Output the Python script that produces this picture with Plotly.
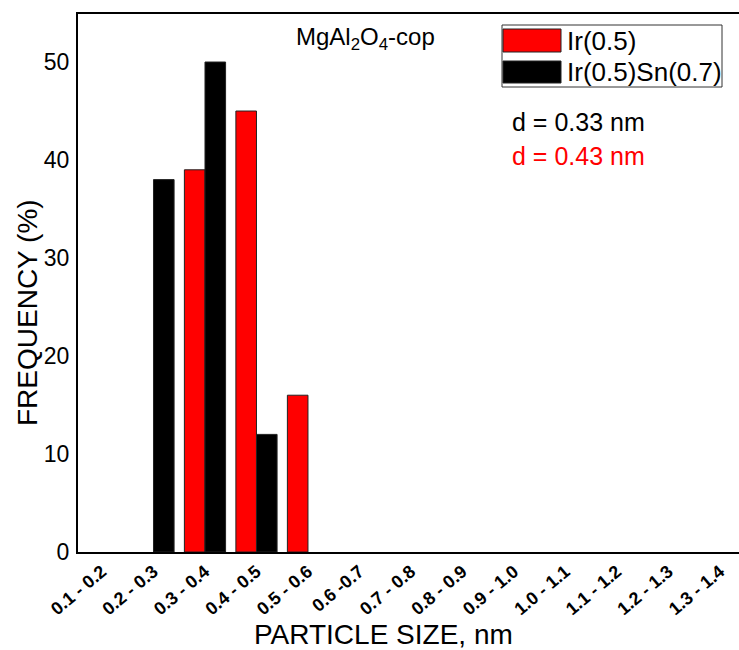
import plotly.graph_objects as go

# Particle size bins (nm)
size_bins = ["0.1 - 0.2", "0.2 - 0.3", "0.3 - 0.4", "0.4 - 0.5", "0.5 - 0.6",
             "0.6 -0.7", "0.7 - 0.8", "0.8 - 0.9", "0.9 - 1.0", "1.0 - 1.1",
             "1.1 - 1.2", "1.2 - 1.3", "1.3 - 1.4"]

# Frequency (%) per bin for each catalyst
series_names = ["Ir(0.5)", "Ir(0.5)Sn(0.7)"]
freq_ir = [0, 0, 39, 45, 16, 0, 0, 0, 0, 0, 0, 0, 0]
freq_irsn = [0, 38, 50, 12, 0, 0, 0, 0, 0, 0, 0, 0, 0]
series_colors = ["#ff0000", "#000000"]

# Mean particle diameters
mean_labels = ["d = 0.33 nm", "d = 0.43 nm"]
mean_colors = ["#000000", "#ff0000"]

W, H = 739, 650
ML, MR, MT, MB = 78, 0, 14, 98
PW, PH = W - ML - MR, H - MT - MB
FONT = "Arial, 'Liberation Sans', sans-serif"


def px(x):
    return (x - ML) / PW


def py(y):
    return (H - MB - y) / PH


fig = go.Figure()
for name, vals, col in zip(series_names, [freq_ir, freq_irsn], series_colors):
    # empty bins get no outline so nothing is drawn along the baseline
    outline = [1 if v else 0 for v in vals]
    fig.add_trace(go.Bar(
        x=size_bins, y=vals, name=name,
        marker=dict(color=col, line=dict(color="#222222", width=outline)),
        showlegend=False,
    ))

shapes = []
annotations = []

# Legend frame with large colour swatches
shapes.append(dict(type="rect", xref="paper", yref="paper",
                   x0=px(502), x1=px(722), y0=py(87), y1=py(25),
                   line=dict(color="#333333", width=1), fillcolor="white"))
for i, (name, col) in enumerate(zip(series_names, series_colors)):
    top, bot = [(29, 52), (61, 83)][i]
    shapes.append(dict(type="rect", xref="paper", yref="paper",
                       x0=px(503), x1=px(561), y0=py(bot), y1=py(top),
                       line=dict(color="#222222", width=1), fillcolor=col))
    annotations.append(dict(xref="paper", yref="paper", x=px(565),
                            y=py((top + bot) / 2), text=name, showarrow=False,
                            xanchor="left", yanchor="middle",
                            font=dict(family=FONT, size=26, color="black")))

# Sample label
annotations.append(dict(xref="paper", yref="paper", x=px(294), y=py(39),
                        text="MgAl<sub>2</sub>O<sub>4</sub>-cop", showarrow=False,
                        xanchor="left", yanchor="middle",
                        font=dict(family=FONT, size=24, color="black")))

# Mean diameters
for txt, col, yc in zip(mean_labels, mean_colors, [122, 156]):
    annotations.append(dict(xref="paper", yref="paper", x=px(510), y=py(yc),
                            text=txt, showarrow=False, xanchor="left",
                            yanchor="middle",
                            font=dict(family=FONT, size=25, color=col)))

# Axis titles
annotations.append(dict(xref="paper", yref="paper", x=px(383), y=py(634),
                        text="PARTICLE SIZE, nm", showarrow=False,
                        xanchor="center", yanchor="middle",
                        font=dict(family=FONT, size=28, color="black")))
annotations.append(dict(xref="paper", yref="paper", x=px(27), y=py(313),
                        text="FREQUENCY (%)", showarrow=False, textangle=-90,
                        xanchor="center", yanchor="middle",
                        font=dict(family=FONT, size=28, color="black")))

fig.update_layout(
    width=W, height=H,
    margin=dict(l=ML, r=MR, t=MT, b=MB, pad=0),
    paper_bgcolor="white", plot_bgcolor="white",
    barmode="group", bargap=0.2, bargroupgap=0,
    shapes=shapes, annotations=annotations,
    font=dict(family=FONT, color="black"),
)
fig.update_xaxes(
    type="category", range=[-0.466, 12.37],
    showgrid=False, zeroline=False, layer="above traces",
    showline=True, linecolor="black", linewidth=2, mirror=True,
    ticks="", tickangle=-40, ticklabelstandoff=0,
    tickfont=dict(family=FONT, size=18, color="black", weight="bold"),
)
fig.update_yaxes(
    range=[0, 54.9], tickvals=[0, 10, 20, 30, 40, 50],
    showgrid=False, zeroline=False, layer="above traces",
    showline=True, linecolor="black", linewidth=2,
    ticks="", ticklabelstandoff=2,
    tickfont=dict(family=FONT, size=23, color="black"),
)

fig.write_html("out.html")
